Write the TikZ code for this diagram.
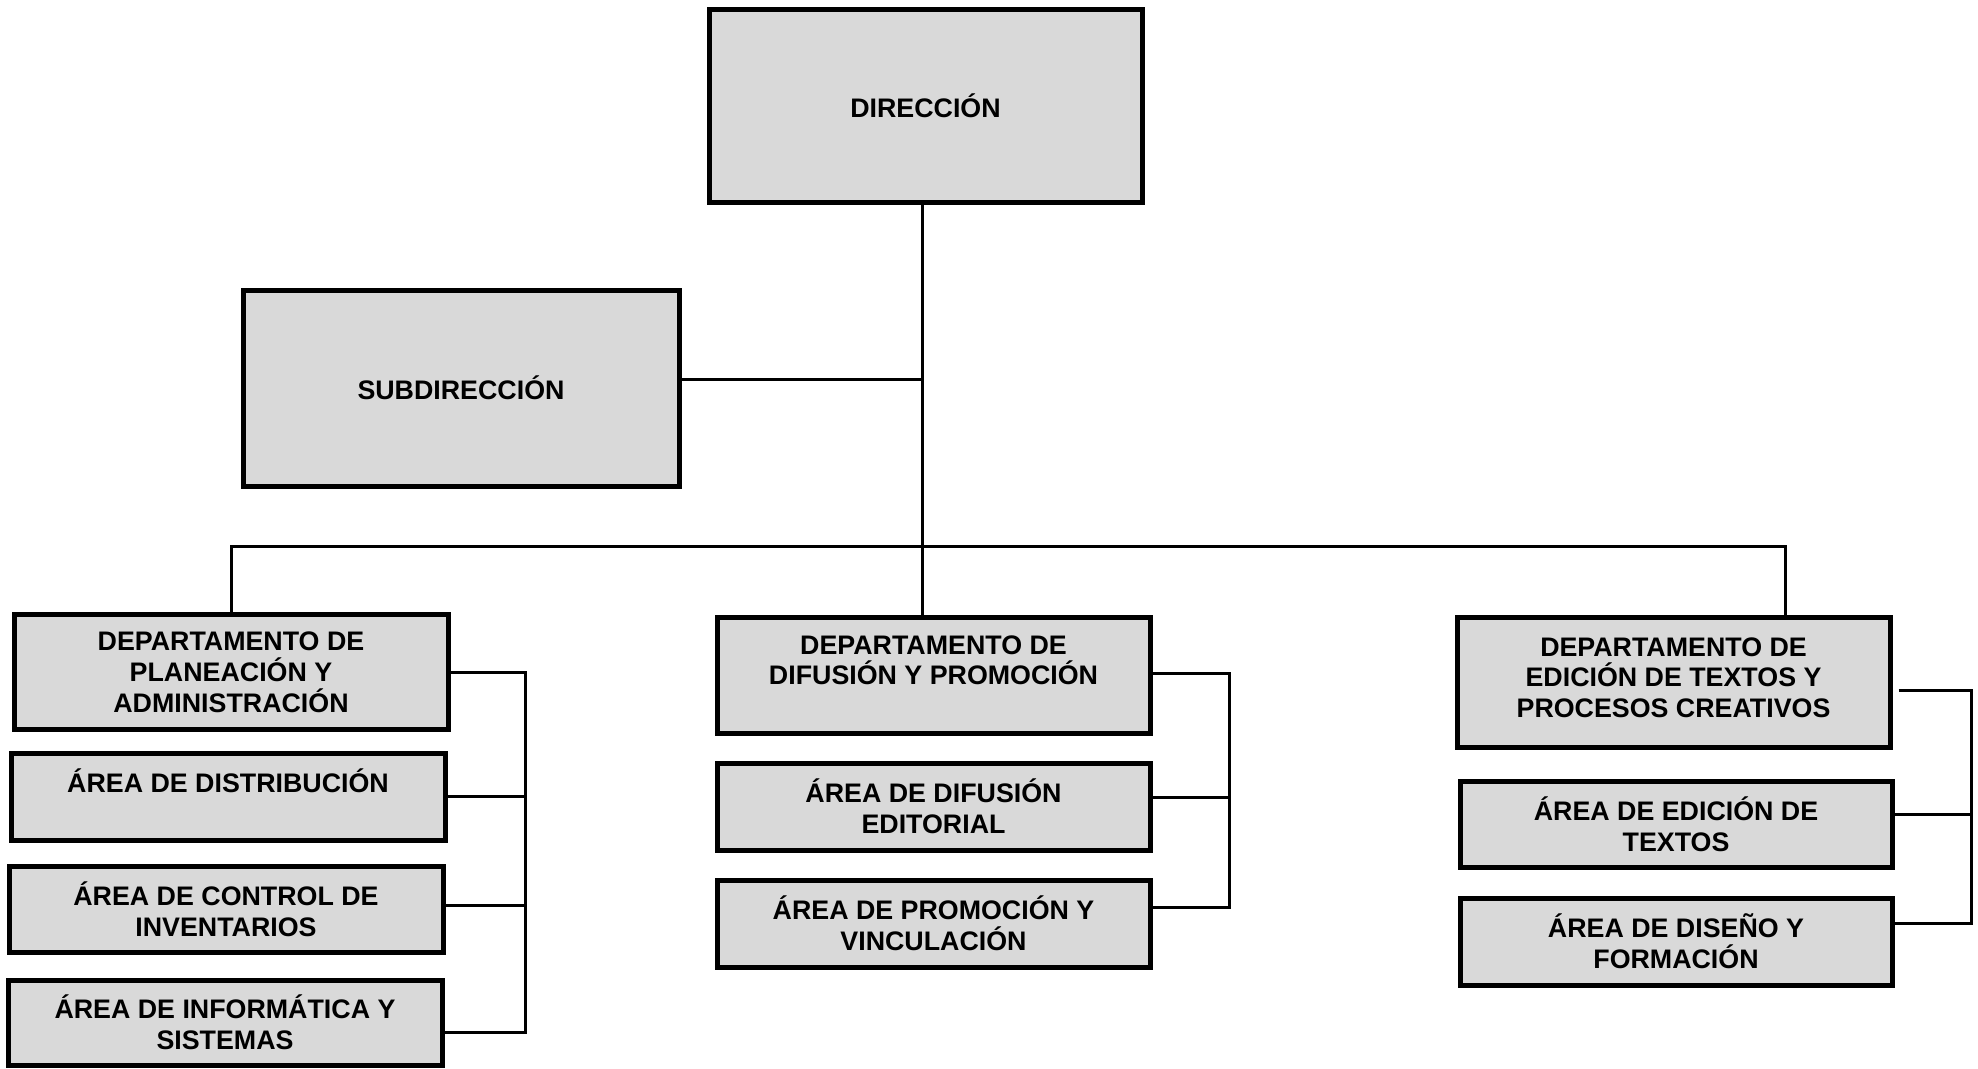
\documentclass[tikz,border=0pt]{standalone}
\usepackage{fontspec}
\setmainfont{Liberation Sans}
\definecolor{boxgray}{RGB}{217,217,217}
\begin{document}
\begin{tikzpicture}[x=1pt,y=-1pt,
  orgbox/.style={draw=black, fill=boxgray, line width=5pt, rectangle, inner sep=0pt,
    align=center, font=\bfseries\fontsize{26.8}{30.8}\selectfont},
  link/.style={draw=black, line width=3pt}]
\useasboundingbox (0,0) rectangle (1978,1068);
% top
\node[orgbox, minimum width=433pt, minimum height=193pt] (dir) at (925.5,105.5) {DIRECCIÓN};
\node[orgbox, minimum width=436pt, minimum height=196pt] (sub) at (461,388) {SUBDIRECCIÓN};
% left column
\node[orgbox, minimum width=434pt, minimum height=115pt] (d1) at (231,672) {DEPARTAMENTO DE\\PLANEACIÓN Y\\ADMINISTRACIÓN};
\node[orgbox, minimum width=434pt, minimum height=87pt] (dist) at (228,796.5) {ÁREA DE DISTRIBUCIÓN\\\mbox{}};
\node[orgbox, minimum width=434pt, minimum height=86pt] (inv) at (226,909) {ÁREA DE CONTROL DE\\INVENTARIOS};
\node[orgbox, minimum width=434pt, minimum height=85pt] (inf) at (225,1022.5) {ÁREA DE INFORMÁTICA Y\\SISTEMAS};
% middle column
\node[orgbox, minimum width=433pt, minimum height=116pt] (d2) at (933.5,675.5) {DEPARTAMENTO DE\\DIFUSIÓN Y PROMOCIÓN\\\mbox{}};
\node[orgbox, minimum width=433pt, minimum height=87pt] (dif) at (933.5,806.5) {ÁREA DE DIFUSIÓN\\EDITORIAL};
\node[orgbox, minimum width=433pt, minimum height=87pt] (pro) at (933.5,923.5) {ÁREA DE PROMOCIÓN Y\\VINCULACIÓN};
% right column
\node[orgbox, minimum width=433pt, minimum height=130pt] (d3) at (1673.5,682.5) {DEPARTAMENTO DE\\EDICIÓN DE TEXTOS Y\\PROCESOS CREATIVOS\\[-21pt]\mbox{}};
\node[orgbox, minimum width=432pt, minimum height=86pt] (edi) at (1676,824.5) {ÁREA DE EDICIÓN DE\\TEXTOS};
\node[orgbox, minimum width=432pt, minimum height=87pt] (dis) at (1676,941.5) {ÁREA DE DISEÑO Y\\FORMACIÓN};
% helper coordinates
\coordinate (trunk) at (922,0);
\coordinate (busR) at (1785,546);
\coordinate (bx1) at (525,0);
\coordinate (bx2) at (1229,0);
\coordinate (bx3) at (1971,0);
% trunk and bus
\draw[link] (dir.south -| trunk) -- (d2.north -| trunk);
\draw[link] ([yshift=9pt]sub.east) -- ([yshift=9pt]sub.east -| trunk);
\draw[link] (d1.north) |- (busR) -- (busR |- d3.north);
% left bracket
\draw[link] (d1.east) -- (d1.east -| bx1) |- ([yshift=-10pt]inf.east);
\draw[link] (dist.east) -- (dist.east -| bx1);
\draw[link] ([yshift=4pt]inv.east) -- ([yshift=4pt]inv.east -| bx1);
% middle bracket
\draw[link] ([yshift=2pt]d2.east) -- ([yshift=2pt]d2.east -| bx2) |- ([yshift=16pt]pro.east);
\draw[link] ([yshift=9pt]dif.east) -- ([yshift=9pt]dif.east -| bx2);
% right bracket
\draw[link] ([xshift=6pt,yshift=-8pt]d3.east) -- ([yshift=-8pt]d3.east -| bx3) |- ([yshift=18pt]dis.east);
\draw[link] ([yshift=10pt]edi.east) -- ([yshift=10pt]edi.east -| bx3);
\end{tikzpicture}
\end{document}
